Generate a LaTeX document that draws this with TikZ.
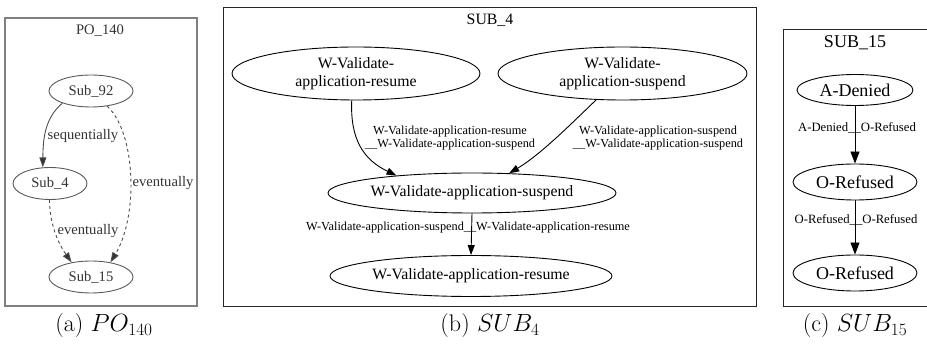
\documentclass[tikz,border=0pt]{standalone}
\usepackage{fontspec}
\newfontfamily\gv{Liberation Serif}
\usetikzlibrary{shapes.geometric,arrows.meta}

\tikzset{
  ell/.style={ellipse, draw, inner sep=0pt, line width=0.9pt},
  panelframe/.style={draw=black!85, line width=0.9pt},
  graybox/.style={draw=black!50, line width=1.3pt},
  grayell/.style={ellipse, draw=black!65, inner sep=0pt, line width=0.9pt},
  grayedge/.style={draw=black!70, line width=0.9pt},
  txta/.style={text=black!80, font=\gv\fontsize{14.6}{16}\selectfont, inner sep=0pt},
  nodeb/.style={font=\gv\fontsize{15.8}{18}\selectfont, inner sep=0pt, align=center},
  lblb/.style={font=\gv\fontsize{12.3}{13}\selectfont, inner sep=0pt, align=center},
  nodec/.style={font=\gv\fontsize{18}{20}\selectfont, inner sep=0pt},
  lblc/.style={font=\gv\fontsize{12.7}{14}\selectfont, inner sep=0pt},
  edgeb/.style={line width=0.9pt, -{Triangle[length=10pt,width=7pt]}},
  edgec/.style={line width=0.9pt, -{Triangle[length=12pt,width=9pt]}},
  caption/.style={font=\fontsize{24}{27}\selectfont, anchor=base, inner sep=0pt},
}

\begin{document}
\begin{tikzpicture}[x=1pt,y=-1pt]
\useasboundingbox (0,0) rectangle (927,344);

% ---------- (a) PO_140 ----------
\draw[graybox] (5,18) rectangle (197,306);
\node[txta] (ta) at (100,31) {PO\_140};
\node[grayell, minimum width=84pt, minimum height=32pt] (s92) at (91,91) {};
\node[txta] (s92t) at (s92) {Sub\_92};
\node[grayell, minimum width=74pt, minimum height=32pt] (s4) at (50,183.5) {};
\node[txta] (s4t) at (s4) {Sub\_4};
\node[grayell, minimum width=84pt, minimum height=32pt] (s15) at (91,277) {};
\node[txta] (s15t) at (s15) {Sub\_15};

\draw[grayedge, -{Triangle[length=10pt,width=7pt,fill=black!80]}]
  (s92.-157) .. controls (45,118) and (43,138) .. (s4.114);
\draw[grayedge, dashed, -{Triangle[length=10pt,width=7pt,fill=black!80]}]
  (s92.-43) .. controls (124,122) and (131,155) .. (131,185)
  .. controls (131,215) and (124,240) .. (s15.37);
\draw[grayedge, dashed, -{Triangle[length=10pt,width=7pt,fill=black!80]}]
  (s4.-92) .. controls (50,225) and (58,243) .. (s15.143);

\node[txta] (la1) at (83,136) {sequentially};
\node[txta] (la2) at (163,183) {eventually};
\node[txta] (la3) at (88,231) {eventually};

\node[caption] (capa) at (104,332) {(a) $PO_{140}$};

% ---------- (b) SUB_4 ----------
\draw[panelframe] (223,7) rectangle (756,306);
\node[nodeb] (tb) at (490,20) {SUB\_4};
\node[ell, minimum width=248pt, minimum height=53pt] (r1) at (356,73.5) {};
\node[nodeb] (r1t) at (r1) {W-Validate-\\application-resume};
\node[ell, minimum width=249pt, minimum height=53pt] (s1) at (622.5,73.5) {};
\node[nodeb] (s1t) at (s1) {W-Validate-\\application-suspend};
\node[ell, minimum width=288pt, minimum height=40pt] (sm) at (472,193) {};
\node[nodeb] (smt) at (sm) {W-Validate-application-suspend};
\node[ell, minimum width=282pt, minimum height=41pt] (rb) at (471,276) {};
\node[nodeb] (rbt) at (rb) {W-Validate-application-resume};

\draw[edgeb] (r1.-99) .. controls (350,140) and (364,160) .. (sm.167);
\draw[edgeb] (s1.-135) .. controls (570,125) and (540,155) .. (sm.28);
\draw[edgeb] (sm.south) -- (rb.north);

\node[lblb] (lb1) at (450,138.5) {W-Validate-application-resume\\\_\_W-Validate-application-suspend};
\node[lblb] (lb2) at (658,138.5) {W-Validate-application-suspend\\\_\_W-Validate-application-suspend};
\node[lblb] (lb3) at (468,228) {W-Validate-application-suspend\_\_W-Validate-application-resume};

\node[caption] (capb) at (490,332) {(b) $SUB_{4}$};

% ---------- (c) SUB_15 ----------
\draw[panelframe] (783,29) rectangle (940,306);
\node[nodec] (tc) at (855,43) {SUB\_15};
\node[ell, minimum width=116pt, minimum height=31pt] (ad) at (855,90) {};
\node[nodec] (adt) at (ad) {A-Denied};
\node[ell, minimum width=124pt, minimum height=36pt] (or1) at (855,182) {};
\node[nodec] (or1t) at (or1) {O-Refused};
\node[ell, minimum width=124pt, minimum height=36pt] (or2) at (855,273) {};
\node[nodec] (or2t) at (or2) {O-Refused};

\draw[edgec] (ad.south) -- (or1.north);
\draw[edgec] (or1.south) -- (or2.north);

\node[lblc] (lc1) at (857,128) {A-Denied\_\_O-Refused};
\node[lblc] (lc2) at (856,220) {O-Refused\_\_O-Refused};

\node[caption] (capc) at (855,332) {(c) $SUB_{15}$};
\end{tikzpicture}
\end{document}
